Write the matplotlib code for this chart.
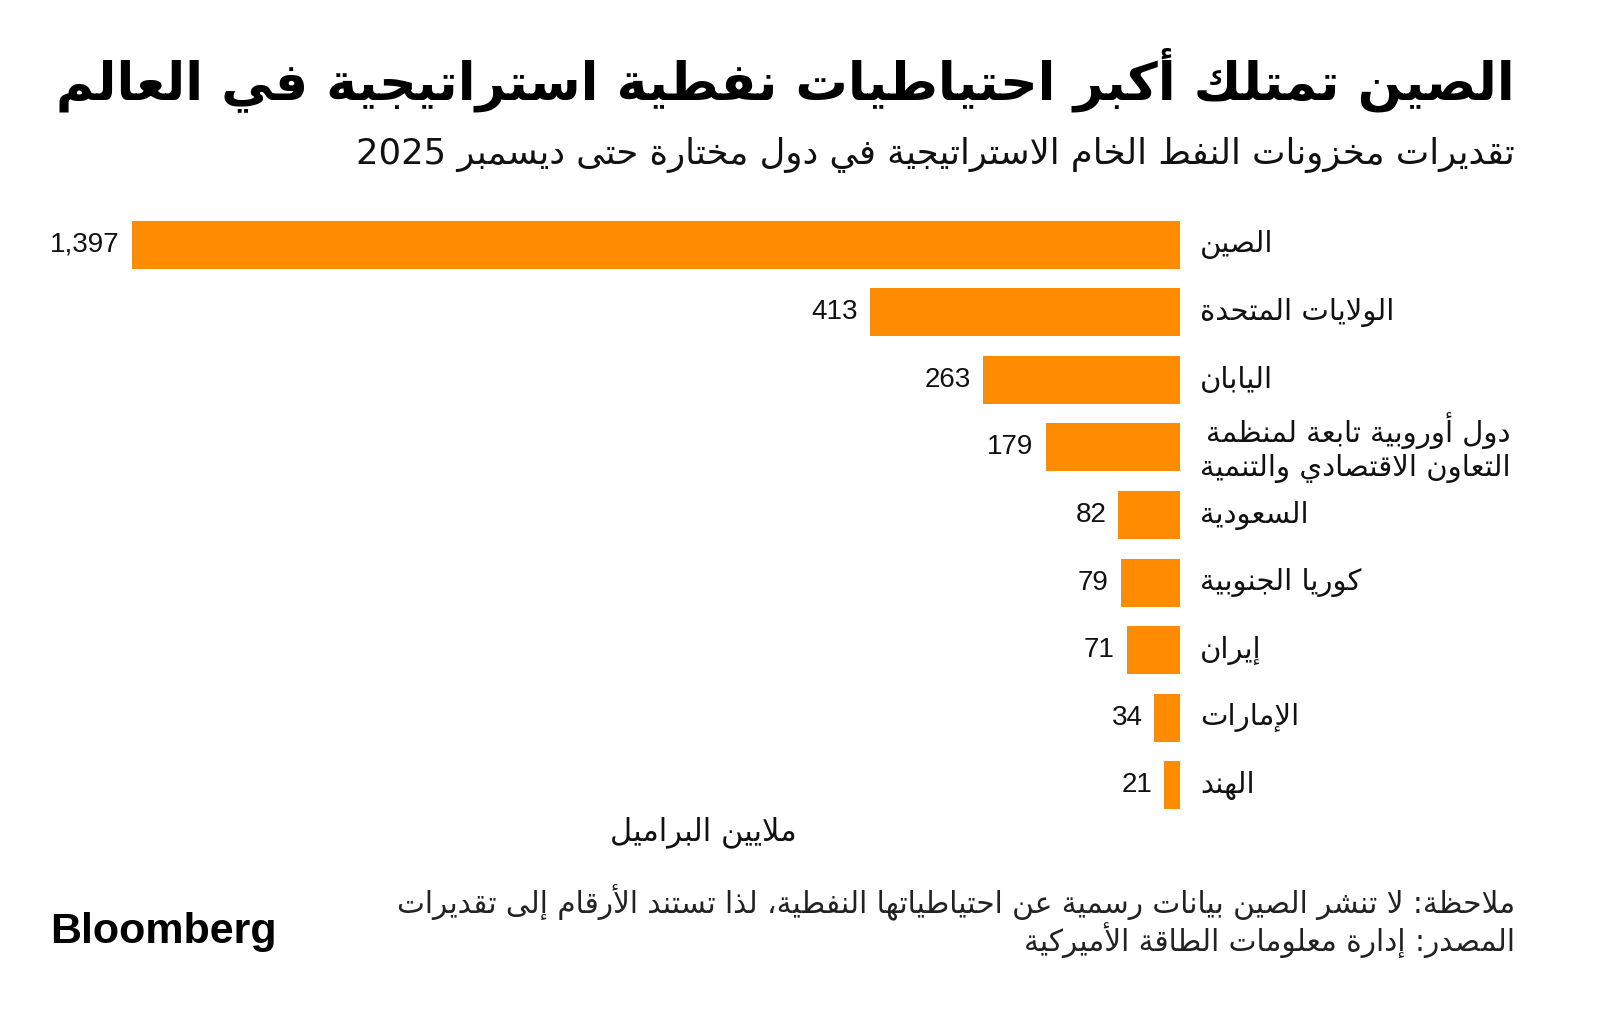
import re
import matplotlib
matplotlib.use('Agg')
import matplotlib.pyplot as plt

# data
countries = ['الصين', 'الولايات المتحدة', 'اليابان',
             'دول أوروبية تابعة لمنظمة\nالتعاون الاقتصادي والتنمية',
             'السعودية', 'كوريا الجنوبية', 'إيران', 'الإمارات', 'الهند']
reserves = [1397, 413, 263, 179, 82, 79, 71, 34, 21]

title = 'الصين تمتلك أكبر احتياطيات نفطية استراتيجية في العالم'
subtitle = 'تقديرات مخزونات النفط الخام الاستراتيجية في دول مختارة حتى ديسمبر 2025'
unit = 'ملايين البراميل'
note = 'ملاحظة: لا تنشر الصين بيانات رسمية عن احتياطياتها النفطية، لذا تستند الأرقام إلى تقديرات'
source = 'المصدر: إدارة معلومات الطاقة الأميركية'

# matplotlib does no arabic shaping, so map letters to presentation forms
# (first form code, number of forms) -> 4 = joins both sides, 2 = joins right only
FORMS = {
    '\u0621': (0xFE80, 1), '\u0622': (0xFE81, 2), '\u0623': (0xFE83, 2),
    '\u0624': (0xFE85, 2), '\u0625': (0xFE87, 2), '\u0626': (0xFE89, 4),
    '\u0627': (0xFE8D, 2), '\u0628': (0xFE8F, 4), '\u0629': (0xFE93, 2),
    '\u062A': (0xFE95, 4), '\u062B': (0xFE99, 4), '\u062C': (0xFE9D, 4),
    '\u062D': (0xFEA1, 4), '\u062E': (0xFEA5, 4), '\u062F': (0xFEA9, 2),
    '\u0630': (0xFEAB, 2), '\u0631': (0xFEAD, 2), '\u0632': (0xFEAF, 2),
    '\u0633': (0xFEB1, 4), '\u0634': (0xFEB5, 4), '\u0635': (0xFEB9, 4),
    '\u0636': (0xFEBD, 4), '\u0637': (0xFEC1, 4), '\u0638': (0xFEC5, 4),
    '\u0639': (0xFEC9, 4), '\u063A': (0xFECD, 4), '\u0641': (0xFED1, 4),
    '\u0642': (0xFED5, 4), '\u0643': (0xFED9, 4), '\u0644': (0xFEDD, 4),
    '\u0645': (0xFEE1, 4), '\u0646': (0xFEE5, 4), '\u0647': (0xFEE9, 4),
    '\u0648': (0xFEED, 2), '\u0649': (0xFEEF, 2), '\u064A': (0xFEF1, 4),
}
LAM_ALEF = {'\u0622': 0xFEF5, '\u0623': 0xFEF7, '\u0625': 0xFEF9, '\u0627': 0xFEFB}


def shape_line(text):
    out = []
    prev_joins = False
    i = 0
    while i < len(text):
        c = text[i]
        nxt = text[i + 1] if i + 1 < len(text) else ''
        if c not in FORMS:
            out.append(c)
            prev_joins = False
            i += 1
            continue
        if c == '\u0644' and nxt in LAM_ALEF:
            out.append(chr(LAM_ALEF[nxt] + (1 if prev_joins else 0)))
            prev_joins = False
            i += 2
            continue
        start, k = FORMS[c]
        next_joins = nxt in FORMS and nxt != '\u0621'
        if k == 4:
            if prev_joins and next_joins:
                form = 3
            elif prev_joins:
                form = 1
            elif next_joins:
                form = 2
            else:
                form = 0
            prev_joins = next_joins
        elif k == 2:
            form = 1 if prev_joins else 0
            prev_joins = False
        else:
            form = 0
            prev_joins = False
        out.append(chr(start + form))
        i += 1
    s = ''.join(out)[::-1]
    # numbers keep left-to-right order
    return re.sub(r'[0-9A-Za-z.,]+', lambda m: m.group(0)[::-1], s)


def ar(text):
    return '\n'.join(shape_line(l) for l in text.split('\n'))


orange = '#FF8C00'
W, H = 1600, 1036
fig = plt.figure(figsize=(16, 10.36), dpi=100)
fig.patch.set_facecolor('white')

ax = fig.add_axes([132 / W, 1 - 819 / H, 1048 / W, 608 / H])
ypos = list(range(len(reserves)))
ax.barh(ypos, reserves, height=0.71, color=orange)
ax.set_xlim(max(reserves), 0)
ax.set_ylim(len(reserves) - 0.5, -0.5)
ax.axis('off')

for y, v, name in zip(ypos, reserves, countries):
    ax.annotate(f'{v:,}', xy=(v, y), xytext=(-12, 0), textcoords='offset pixels',
                ha='right', va='center', fontsize=20, family='Liberation Sans', color='#111111')
    ax.annotate(ar(name), xy=(0, y), xytext=(20, 0), textcoords='offset pixels',
                ha='left', va='center', fontsize=21, family='DejaVu Sans', color='#111111',
                multialignment='right', linespacing=1.2)

fig.text(1515 / W, 1 - 80 / H, ar(title), ha='right', va='center',
         fontsize=37.5, fontweight='bold', family='DejaVu Sans', color='black')
fig.text(1515 / W, 1 - 155 / H, ar(subtitle), ha='right', va='center',
         fontsize=25.5, family='DejaVu Sans', color='#111111')
fig.text(703 / W, 1 - 832 / H, ar(unit), ha='center', va='center',
         fontsize=22, family='DejaVu Sans', color='#111111')
fig.text(1515 / W, 1 - 903 / H, ar(note), ha='right', va='center',
         fontsize=21.3, family='DejaVu Sans', color='#222222')
fig.text(1515 / W, 1 - 941 / H, ar(source), ha='right', va='center',
         fontsize=21.3, family='DejaVu Sans', color='#222222')
fig.text(50 / W, 1 - 932 / H, 'Bloomberg', ha='left', va='center',
         fontsize=31, fontweight='bold', family='Liberation Sans', color='black')

fig.savefig('out.png', dpi=100, facecolor='white')
